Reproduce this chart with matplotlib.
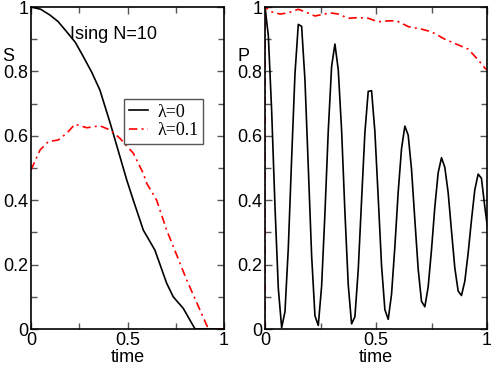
import numpy as np
import matplotlib
matplotlib.use("Agg")
import matplotlib.pyplot as plt
from matplotlib.ticker import MultipleLocator

plt.rcParams['font.family'] = ['Liberation Sans', 'DejaVu Sans']
plt.rcParams['font.size'] = 13

# ---------------- left panel: S(t) ----------------
t_s0 = [0.0, 0.05, 0.098, 0.14, 0.185, 0.23, 0.271, 0.315, 0.357, 0.41, 0.461,
        0.496, 0.53, 0.582, 0.642, 0.703, 0.737, 0.789, 0.85, 1.0]
s0 = [1.0, 0.993, 0.975, 0.955, 0.923, 0.89, 0.846, 0.797, 0.742, 0.64, 0.535,
      0.463, 0.40, 0.307, 0.245, 0.142, 0.10, 0.064, 0.0, 0.0]

t_s1 = [0.0, 0.047, 0.09, 0.141, 0.185, 0.228, 0.289, 0.357, 0.41, 0.461,
        0.53, 0.582, 0.6, 0.651, 0.703, 0.807, 0.919, 1.0]
s1 = [0.494, 0.556, 0.582, 0.587, 0.608, 0.636, 0.625, 0.631, 0.618, 0.592,
      0.546, 0.483, 0.452, 0.40, 0.307, 0.152, 0.0, 0.0]

# ---------------- right panel: P(t) ----------------
t_p0 = [0.015 * k for k in range(68)]
p0 = [1.0, 0.911, 0.677, 0.380, 0.126, 0.004,
      0.054, 0.252, 0.530, 0.792, 0.946,
      0.940, 0.773, 0.503, 0.228, 0.041,
      0.011, 0.133, 0.360, 0.616, 0.815,
      0.885, 0.805, 0.618, 0.363, 0.137, 0.016,
      0.038, 0.184, 0.400, 0.610, 0.738,
      0.740, 0.613, 0.408, 0.197, 0.060,
      0.030, 0.108, 0.256, 0.426, 0.560, 0.630,
      0.602, 0.496, 0.339, 0.186, 0.086,
      0.069, 0.131, 0.246, 0.379, 0.485, 0.532,
      0.502, 0.424, 0.305, 0.190, 0.118,
      0.104, 0.148, 0.235, 0.338, 0.432, 0.481,
      0.468, 0.380, 0.300]

t_p1 = [0.0, 0.0, 0.03, 0.068, 0.105, 0.15, 0.18, 0.225, 0.293, 0.33, 0.375,
        0.42, 0.465, 0.51, 0.555, 0.593, 0.646, 0.706, 0.75, 0.81, 0.871,
        0.916, 0.961, 0.991, 1.0]
p1 = [0.0, 1.0, 0.985, 0.978, 0.982, 0.993, 0.985, 0.972, 0.982, 0.978, 0.965,
      0.967, 0.965, 0.954, 0.957, 0.957, 0.939, 0.931, 0.923, 0.90, 0.882,
      0.869, 0.835, 0.81, 0.805]

W, H = 491, 367
fig = plt.figure(figsize=(W / 100, H / 100), dpi=100)
axL = fig.add_axes([31 / W, 1 - 329 / H, 193 / W, 322 / H])
axR = fig.add_axes([265 / W, 1 - 329 / H, 222 / W, 322 / H])

red_dash = (0, (5, 2.5, 1.2, 2.5))

axL.plot(t_s0, s0, color='black', lw=1.2, label='λ=0')
axL.plot(t_s1, s1, color='red', lw=1.2, linestyle=red_dash, label='λ=0.1')
axR.plot(t_p0, p0, color='black', lw=1.2)
axR.plot(t_p1, p1, color='red', lw=1.2, linestyle=red_dash)

for ax in (axL, axR):
    ax.set_xlim(0, 1)
    ax.set_ylim(0, 1)
    ax.xaxis.set_major_locator(MultipleLocator(0.5))
    ax.xaxis.set_minor_locator(MultipleLocator(0.25))
    ax.yaxis.set_major_locator(MultipleLocator(0.2))
    ax.yaxis.set_minor_locator(MultipleLocator(0.1))
    ax.tick_params(which='both', direction='in', top=True, right=True,
                   color='#555555', width=1)
    ax.tick_params(which='major', length=5, pad=2, labelsize=13)
    ax.tick_params(which='minor', length=4)
    ax.set_xticks([0, 0.5, 1])
    ax.set_xticklabels(['0', '0.5', '1'])
    ax.set_yticks([0, 0.2, 0.4, 0.6, 0.8, 1])
    ax.set_yticklabels(['0', '0.2', '0.4', '0.6', '0.8', '1'])
    for sp in ax.spines.values():
        sp.set_linewidth(1.2)
    ax.set_xlabel('time', fontsize=13, labelpad=0)

axL.text(-0.15, 0.845, 'S', transform=axL.transAxes, ha='left', va='center', fontsize=13)
axR.text(-0.126, 0.845, 'P', transform=axR.transAxes, ha='left', va='center', fontsize=13)
axL.text(0.43, 0.916, 'Ising N=10', ha='center', va='center', fontsize=13)

leg = axL.legend(loc='upper left', bbox_to_anchor=(0.482, 0.714), borderaxespad=0,
                 prop={'family': 'Liberation Serif', 'size': 13},
                 handlelength=1.1, handletextpad=0.5, borderpad=0.25,
                 labelspacing=0.1, fancybox=False, framealpha=1)
leg.get_frame().set_edgecolor('#555555')
leg.get_frame().set_linewidth(1.0)

fig.savefig('out.png', dpi=100)
